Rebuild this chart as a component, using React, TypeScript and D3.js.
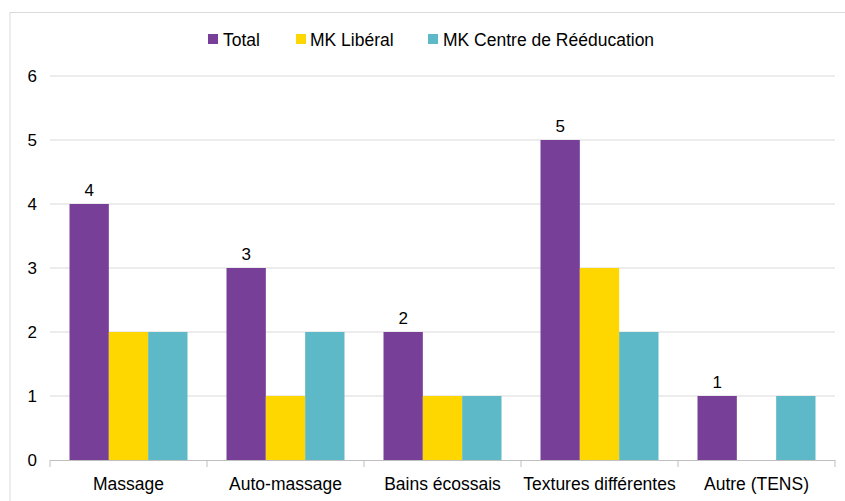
import React from "react";
import * as d3 from "d3";

const categories = ["Massage", "Auto-massage", "Bains écossais", "Textures différentes", "Autre (TENS)"];
const seriesNames = ["Total", "MK Libéral", "MK Centre de Rééducation"];
const totalValues = [4, 3, 2, 5, 1];
const liberalValues = [2, 1, 1, 3, 0];
const centreValues = [2, 2, 1, 2, 1];
const yTicks = [0, 1, 2, 3, 4, 5, 6];
const colors = ["#773F98", "#FFD700", "#5DB9C7"];

const W = 845;
const H = 501;
const left = 50;
const right = 835;
const top = 76;
const bottom = 460;
const font = "'Liberation Sans', Arial, sans-serif";

export default function App() {
  const series = [totalValues, liberalValues, centreValues];
  const x0 = d3.scaleBand<string>().domain(categories).range([left, right]).paddingInner(0).paddingOuter(0);
  const inner = d3.scaleBand<string>().domain(seriesNames).range([19.5, x0.bandwidth() - 19.5]).padding(0);
  const y = d3.scaleLinear().domain([0, 6]).range([bottom, top]);

  const boundaries = categories.map((c) => x0(c) as number).concat([right]);

  return (
    <svg width={W} height={H} style={{ position: "absolute", left: 0, top: 0, display: "block", background: "#fff" }} fontFamily={font}>
      <rect x={10} y={12.5} width={W} height={H} fill="#fff" stroke="#d9d9d9" strokeWidth={1} />
      {yTicks.map((t) => (
        <g key={t}>
          {t > 0 && <line x1={left} x2={right} y1={y(t)} y2={y(t)} stroke="#d9d9d9" strokeWidth={1} />}
          <text x={37} y={y(t) + 6} textAnchor="end" fontSize={17} fill="#000">{t}</text>
        </g>
      ))}
      {categories.map((c, ci) => (
        <g key={c}>
          {series.map((vals, si) => {
            const v = vals[ci];
            if (!v) return null;
            const bx = (x0(c) as number) + (inner(seriesNames[si]) as number);
            return <rect key={si} x={bx} y={y(v)} width={inner.bandwidth()} height={y(0) - y(v)} fill={colors[si]} />;
          })}
          <text
            x={(x0(c) as number) + (inner(seriesNames[0]) as number) + inner.bandwidth() / 2}
            y={y(totalValues[ci]) - 8}
            textAnchor="middle"
            fontSize={17}
            fill="#000"
          >
            {totalValues[ci]}
          </text>
          <text x={(x0(c) as number) + x0.bandwidth() / 2} y={490} textAnchor="middle" fontSize={17.5} fill="#000">
            {c}
          </text>
        </g>
      ))}
      <line x1={left} x2={right} y1={bottom + 0.5} y2={bottom + 0.5} stroke="#bfbfbf" strokeWidth={1} />
      {boundaries.map((bx, i) => (
        <line key={i} x1={bx} x2={bx} y1={bottom} y2={bottom + 7} stroke="#bfbfbf" strokeWidth={1} />
      ))}
      {[
        { x: 208, tx: 223 },
        { x: 296, tx: 310 },
        { x: 428, tx: 443 },
      ].map((l, i) => (
        <g key={i}>
          <rect x={l.x} y={34} width={10} height={10} fill={colors[i]} />
          <text x={l.tx} y={45.5} fontSize={17.5} fill="#000">{seriesNames[i]}</text>
        </g>
      ))}
    </svg>
  );
}
